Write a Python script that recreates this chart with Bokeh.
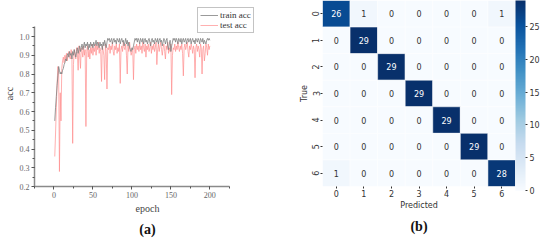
from bokeh.plotting import figure
from bokeh.layouts import row
from bokeh.models import (ColumnDataSource, Legend, LegendItem, SingleIntervalTicker,
                          Range1d, Title, LinearColorMapper, ColorBar, FixedTicker,
                          CustomJSTickFormatter)
from bokeh.palettes import Blues256
from bokeh.core.properties import value
from bokeh.embed import file_html
from bokeh.resources import INLINE

# ---------------- data ----------------
epochs = list(range(1, 201))
train_acc = [
    0.55, 0.62, 0.68, 0.74, 0.79, 0.84, 0.82, 0.80, 0.81, 0.80,
    0.82, 0.83, 0.85, 0.86, 0.88, 0.87, 0.90, 0.91, 0.89, 0.92,
    0.90, 0.91, 0.88, 0.92, 0.90, 0.93, 0.91, 0.89, 0.92, 0.94,
    0.91, 0.93, 0.95, 0.92, 0.94, 0.96, 0.93, 0.95, 0.97, 0.94,
    0.96, 0.95, 0.97, 0.93, 0.96, 0.94, 0.97, 0.95, 0.96, 0.94,
    0.97, 0.95, 0.96, 0.98, 0.95, 0.97, 0.96, 0.94, 0.97, 0.95,
    0.96, 0.93, 0.97, 0.95, 0.98, 0.96, 0.94, 0.97, 0.99, 0.98,
    0.99, 0.97, 0.98, 0.99, 0.96, 0.98, 0.99, 0.97, 0.98, 0.96,
    0.99, 0.98, 0.97, 0.99, 0.96, 0.98, 0.99, 0.97, 0.98, 0.95,
    0.97, 0.99, 0.96, 0.98, 0.95, 0.97, 0.94, 0.93, 0.92, 0.94,
    0.93, 0.95, 0.97, 0.99, 0.98, 0.99, 0.97, 0.99, 0.98, 0.96,
    0.99, 0.98, 0.97, 0.99, 0.96, 0.98, 0.99, 0.97, 0.98, 0.96,
    0.98, 0.99, 0.97, 0.95, 0.98, 0.99, 0.97, 0.98, 0.96, 0.99,
    0.98, 0.97, 0.99, 0.96, 0.98, 0.99, 0.97, 0.98, 0.95, 0.97,
    0.99, 0.98, 0.96, 0.98, 0.99, 0.95, 0.93, 0.96, 0.98, 0.92,
    0.95, 0.97, 0.99, 0.98, 0.99, 0.97, 0.99, 0.98, 0.96, 0.99,
    0.98, 0.97, 0.99, 0.96, 0.98, 0.99, 0.97, 0.98, 0.99, 0.96,
    0.98, 0.99, 0.97, 0.98, 0.99, 0.96, 0.98, 0.99, 0.97, 0.98,
    0.96, 0.99, 0.98, 0.97, 0.99, 0.98, 0.96, 0.99, 0.98, 0.97,
    0.99, 0.96, 0.98, 0.97, 0.96, 0.98, 0.99, 0.98, 0.99, 0.98,
]
test_acc = [
    0.36, 0.48, 0.62, 0.75, 0.84, 0.80, 0.28, 0.70, 0.55, 0.83,
    0.87, 0.89, 0.86, 0.90, 0.88, 0.91, 0.87, 0.90, 0.92, 0.89,
    0.88, 0.93, 0.90, 0.43, 0.85, 0.93, 0.90, 0.88, 0.94, 0.91,
    0.82, 0.95, 0.90, 0.83, 0.94, 0.92, 0.89, 0.95, 0.90, 0.93,
    0.52, 0.92, 0.95, 0.89, 0.93, 0.88, 0.94, 0.91, 0.96, 0.90,
    0.94, 0.92, 0.96, 0.90, 0.95, 0.93, 0.97, 0.91, 0.94, 0.92,
    0.76, 0.95, 0.93, 0.90, 0.77, 0.96, 0.92, 0.72, 0.94, 0.93,
    0.96, 0.91, 0.95, 0.93, 0.97, 0.92, 0.90, 0.95, 0.93, 0.96,
    0.91, 0.94, 0.92, 0.96, 0.75, 0.93, 0.95, 0.92, 0.97, 0.94,
    0.93, 0.96, 0.90, 0.80, 0.95, 0.92, 0.97, 0.93, 0.90, 0.92,
    0.94, 0.77, 0.93, 0.95, 0.91, 0.96, 0.93, 0.95, 0.92, 0.96,
    0.93, 0.95, 0.91, 0.97, 0.94, 0.92, 0.96, 0.89, 0.95, 0.93,
    0.96, 0.92, 0.94, 0.97, 0.91, 0.95, 0.93, 0.96, 0.92, 0.94,
    0.97, 0.85, 0.93, 0.96, 0.92, 0.95, 0.97, 0.93, 0.90, 0.94,
    0.96, 0.92, 0.88, 0.95, 0.93, 0.97, 0.91, 0.94, 0.92, 0.96,
    0.69, 0.90, 0.94, 0.93, 0.96, 0.92, 0.95, 0.93, 0.97, 0.94,
    0.92, 0.95, 0.93, 0.96, 0.91, 0.79, 0.94, 0.96, 0.93, 0.95,
    0.97, 0.92, 0.89, 0.95, 0.93, 0.96, 0.94, 0.91, 0.95, 0.93,
    0.78, 0.94, 0.96, 0.92, 0.95, 0.93, 0.89, 0.96, 0.94, 0.80,
    0.93, 0.95, 0.87, 0.91, 0.96, 0.94, 0.90, 0.96, 0.93, 0.95,
]
series_labels = ["train acc", "test acc"]

classes = ["0", "1", "2", "3", "4", "5", "6"]
confusion = [
    [26, 1, 0, 0, 0, 0, 1],
    [0, 29, 0, 0, 0, 0, 0],
    [0, 0, 29, 0, 0, 0, 0],
    [0, 0, 0, 29, 0, 0, 0],
    [0, 0, 0, 0, 29, 0, 0],
    [0, 0, 0, 0, 0, 29, 0],
    [1, 0, 0, 0, 0, 0, 28],
]
cbar_ticks = [0, 5, 10, 15, 20, 25]

SERIF = "Liberation Serif"
SANS = "DejaVu Sans"

# ---------------- (a) accuracy curve ----------------
# frame is enlarged (up & right) so the legend, which sits outside the axes, is not clipped
p1 = figure(width=275, height=239, x_range=Range1d(-25, 265), y_range=Range1d(0.2, 1.192),
            output_backend="svg", toolbar_location=None,
            min_border_left=30, min_border_right=15, min_border_top=0, min_border_bottom=53)
p1.outline_line_color = None
p1.xgrid.visible = False
p1.ygrid.visible = False

r_test = p1.line(epochs, test_acc, line_color="#ff8a8a", line_width=0.8, line_alpha=0.85)
r_train = p1.line(epochs, train_acc, line_color="#808080", line_width=0.8)

p1.xaxis.ticker = SingleIntervalTicker(interval=50, num_minor_ticks=2)
p1.yaxis.ticker = SingleIntervalTicker(interval=0.1, num_minor_ticks=2)
p1.xaxis.bounds = (-25, 225)
p1.yaxis.bounds = (0.2, 1.053)
for ax in (p1.xaxis, p1.yaxis):
    ax.axis_line_color = "#8a8a8a"
    ax.axis_line_width = 1.5
    ax.major_tick_line_color = "#555555"
    ax.minor_tick_line_color = "#555555"
    ax.major_tick_out = 3
    ax.major_tick_in = 0
    ax.minor_tick_out = 2
    ax.minor_tick_in = 0
    ax.major_label_text_font = SERIF
    ax.major_label_text_font_size = "8px"
    ax.major_label_text_color = "#666666"
    ax.axis_label_text_font = SERIF
    ax.axis_label_text_font_size = "10px"
    ax.axis_label_text_font_style = "normal"
    ax.axis_label_text_color = "#444444"
    ax.major_label_standoff = 2
    ax.axis_label_standoff = 2
p1.xaxis.axis_label = "epoch"
p1.yaxis.axis_label = "acc"
p1.yaxis.formatter = CustomJSTickFormatter(code="return tick.toFixed(1)")

legend = Legend(items=[LegendItem(label=series_labels[0], renderers=[r_train]),
                       LegendItem(label=series_labels[1], renderers=[r_test])],
                location=(163, 153), border_line_color="#888888", border_line_width=1,
                padding=2, spacing=0, margin=0, glyph_width=18, glyph_height=10,
                label_height=10, label_standoff=2,
                label_text_font=SERIF, label_text_font_size="9px", label_text_color="#333333",
                background_fill_alpha=1.0)
p1.add_layout(legend)
p1.add_layout(Title(text="(a)", align="center", text_font=SERIF, text_font_size="14px",
                    text_font_style="bold", text_color="#111111", standoff=6), "below")

# ---------------- (b) confusion matrix ----------------
xs, ys, vals, tcolors, tstr = [], [], [], [], []
for i, rowv in enumerate(confusion):
    for j, v in enumerate(rowv):
        xs.append(classes[j])
        ys.append(classes[i])
        vals.append(v)
        tstr.append(str(v))
        tcolors.append("white" if v > 14 else "#333333")
src = ColumnDataSource(dict(x=xs, y=ys, v=vals, t=tstr, c=tcolors))

mapper = LinearColorMapper(palette=list(Blues256[::-1]), low=0, high=29)

p2 = figure(width=267, height=239, x_range=classes, y_range=classes[::-1],
            output_backend="svg", toolbar_location=None,
            min_border_left=47, min_border_right=20, min_border_top=0, min_border_bottom=47)
p2.outline_line_color = None
p2.xgrid.visible = False
p2.ygrid.visible = False
p2.rect(x="x", y="y", width=1, height=1, source=src,
        fill_color={"field": "v", "transform": mapper}, line_color="white", line_width=0.5)
p2.text(x="x", y="y", text="t", source=src, text_color="c", text_align="center",
        text_baseline="middle", text_font=value(SANS), text_font_size="8px")

for ax in (p2.xaxis, p2.yaxis):
    ax.axis_line_color = None
    ax.major_tick_line_color = "#333333"
    ax.major_tick_out = 2
    ax.major_tick_in = 0
    ax.minor_tick_line_color = None
    ax.major_label_text_font = SANS
    ax.major_label_text_font_size = "8px"
    ax.major_label_text_color = "#333333"
    ax.axis_label_text_font = SANS
    ax.axis_label_text_font_size = "8px"
    ax.axis_label_text_font_style = "normal"
    ax.axis_label_text_color = "#333333"
    ax.major_label_standoff = 1
    ax.axis_label_standoff = 1
p2.xaxis.axis_label = "Predicted"
p2.yaxis.axis_label = "True"
p2.yaxis.major_label_orientation = "vertical"

cb = ColorBar(color_mapper=mapper, ticker=FixedTicker(ticks=cbar_ticks), width=10, height=190,
              margin=10, padding=0, major_tick_in=0, major_tick_out=2,
              major_tick_line_color="#333333", bar_line_color=None, border_line_color=None,
              major_label_text_font=SANS, major_label_text_font_size="8px",
              major_label_text_color="#333333", label_standoff=2)
p2.add_layout(cb, "right")
p2.add_layout(Title(text="(b)", align="center", text_font=SERIF, text_font_size="14px",
                    text_font_style="bold", text_color="#111111", standoff=8), "below")

layout = row(p1, p2)
open("out.html", "w").write(file_html(layout, INLINE))
